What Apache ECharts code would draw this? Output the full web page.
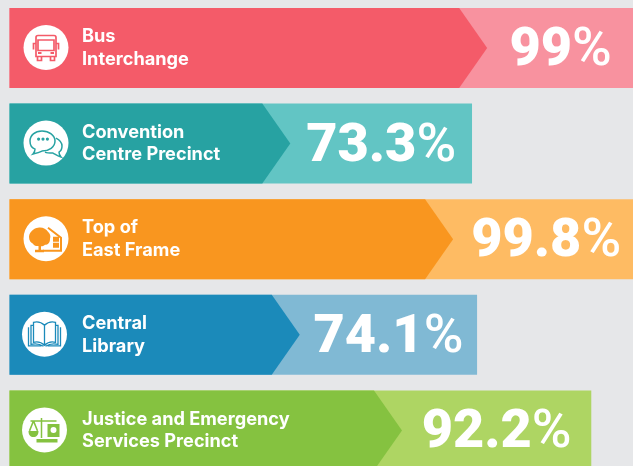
<!DOCTYPE html>
<html><head><meta charset="utf-8">
<style>html,body{margin:0;padding:0;background:#e6e7e9}#c{width:633px;height:466px}</style>
<script src="https://cdn.jsdelivr.net/npm/echarts@6/dist/echarts.min.js"></script>
</head><body><div id="c"></div>
<script>
const categories = ['Bus\nInterchange','Convention\nCentre Precinct','Top of\nEast Frame','Central\nLibrary','Justice and Emergency\nServices Precinct'];
const values = [99, 73.3, 99.8, 74.1, 92.2];
const valueLabels = ['99','73.3','99.8','74.1','92.2'];
const arrowTips = [75.7, 44.5, 70.3, 46.0, 62.2];
const darkColors = ['#f45b69','#27a2a2','#f9961f','#1b8aba','#85c240'];
const lightColors = ['#f8929f','#62c5c4','#febb63','#80b9d4','#aed563'];
const iconX = [36.5,36.5,36.5,35,35];

const icons = [
 { w:1.7, s:'M-8,-12H8Q10,-12 10,-10V9H-10V-10Q-10,-12 -8,-12ZM-8,-7.5H8V3H-8ZM-10,-4H-12.5V2M10,-4H12.5V2M-8.5,9V13H-4.5V9M4.5,9V13H8.5V9',
   f:'M-8,4.5h3.5v2h-3.5ZM4.5,4.5h3.5v2h-3.5Z' },
 { w:1.5, s:'M-4,-12C-11,-12 -16,-8 -16,-2C-16,2 -14,5 -11,6C-11,8 -12,10 -13,11C-9,10 -6,9 -4,8C3,8 9,4 9,-2C9,-8 3,-12 -4,-12ZM10,-5C14,-3 16,0 16,3C16,6 15,8 13,9C13,11 14,13 15,14C11,13 9,11 7,10C4,10 1,10 -1,9',
   f:'M-9,-4a1.6,1.6 0 1,0 3.2,0a1.6,1.6 0 1,0 -3.2,0ZM-4.6,-4a1.6,1.6 0 1,0 3.2,0a1.6,1.6 0 1,0 -3.2,0ZM-0.2,-4a1.6,1.6 0 1,0 3.2,0a1.6,1.6 0 1,0 -3.2,0Z' },
 { w:2, s:'M2,-11L15,-1V12H-3',
   f:'M-8,-11C-4,-12 0,-10 2,-7C4,-5 5,-3 4,0C4,4 2,6 -1,6C-3,8 -6,8 -7,7C-9,8 -12,7 -13,5C-15,4 -17,2 -17,-2C-17,-5 -15,-7 -14,-8C-12,-10 -10,-11 -8,-11ZM-7.5,6H-5V11H-2V13.5H-11V11H-7.5ZM7,-2H13V3H7ZM7,4H13V9H7Z' },
 { w:1.3, s:'M0,-9C-3,-12 -7,-13 -11,-12V8C-7,7 -3,8 0,11C3,8 7,7 11,8V-12C7,-13 3,-12 0,-9ZM0,-9V11M-11,-9H-13.5V10C-9,9 -4,10 -1,12M11,-9H13.5V10C9,9 4,10 1,12M-16,-7V11.5H-3M16,-7V11.5H3',
   f:'' },
 { w:1.5, s:'M-14,-9H12M-11,-9L-15,1M-11,-9L-7,1M-3,-12V8',
   f:'M-16,1H-6C-6,5 -8,7 -11,7C-14,7 -16,5 -16,1ZM-8,9H13V12.5H-8ZM3,-6H15V7H3ZM6,0a3,3 0 1,0 6,0a3,3 0 1,0 -6,0Z' }
];

const chart = echarts.init(document.getElementById('c'), null, {renderer:'canvas'});
const labelFont = 'Inter';
const numFont = 'Roboto';

chart.setOption({
  backgroundColor:'#e6e7e9',
  animation:false,
  grid:{left:9.5, top:0.2, width:631, height:478, containLabel:false, outerBoundsMode:'none'},
  xAxis:{type:'value', min:0, max:100, show:false},
  yAxis:{type:'category', inverse:true, data:categories,
    axisLine:{show:false}, axisTick:{show:false}, splitLine:{show:false},
    axisLabel:{inside:true, margin:72.5, color:'#fff', fontFamily:labelFont, fontWeight:700, fontSize:18.2, lineHeight:22.5, align:'left', padding:[0,0,4,0]},
    z:10},
  series:[{
    type:'custom',
    clip:false,
    z:2,
    encode:{x:[1,2], y:0},
    data:categories.map((c,i)=>[i, values[i], arrowTips[i]]),
    renderItem(params, api){
      const i = params.dataIndex;
      const row = api.value(0);
      const end = api.coord([api.value(1), row]);
      const tip = api.coord([api.value(2), row]);
      const start = api.coord([0, row]);
      const h = 80, top = end[1]-h/2, bot = end[1]+h/2, shoulder = tip[0]-28;
      const cx = start[0]+iconX[i], cy = end[1]-0.5;
      const ic = icons[i];
      const children = [
        {type:'rect', shape:{x:start[0], y:top, width:end[0]-start[0], height:h}, style:{fill:lightColors[i]}},
        {type:'polygon', shape:{points:[[start[0],top],[shoulder,top],[tip[0],end[1]],[shoulder,bot],[start[0],bot]]}, style:{fill:darkColors[i]}},
        {type:'circle', shape:{cx, cy, r:22.5}, style:{fill:'#fff'}},
        {type:'path', x:cx, y:cy, shape:{pathData:ic.s}, style:{fill:'none', stroke:darkColors[i], lineWidth:ic.w}}
      ];
      if(ic.f) children.push({type:'path', x:cx, y:cy, shape:{pathData:ic.f}, style:{fill:darkColors[i], stroke:'none'}});
      children.push({type:'text', x:(tip[0]+end[0])/2, y:end[1]+3.5, style:{
        text:'{n|'+valueLabels[i]+'}{p|%}', align:'center', verticalAlign:'middle',
        rich:{ n:{fontFamily:numFont, fontWeight:900, fontSize:54, fill:'#fff'},
               p:{fontFamily:numFont, fontWeight:500, fontSize:54, fill:'#fff'} }
      }});
      return {type:'group', children};
    }
  }]
});
</script></body></html>
